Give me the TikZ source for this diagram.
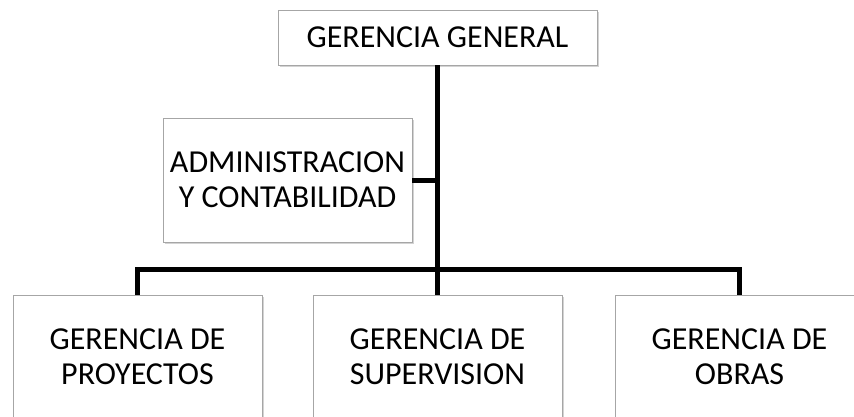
\documentclass[tikz,border=0pt]{standalone}
\usepackage{fontspec}
\setmainfont{Carlito}
\usetikzlibrary{shadows}
\tikzset{
  cargo/.style={draw=gray!70, fill=white, align=center, inner sep=0pt,
    minimum width=249, minimum height=124,
    font=\fontsize{32}{35}\selectfont,
    drop shadow={shadow xshift=2pt, shadow yshift=-2pt, opacity=0.35}},
  linea/.style={line width=5pt, line join=miter}
}
\begin{document}
\begin{tikzpicture}[x=1pt,y=-1pt]
\useasboundingbox (0,0) rectangle (854,416);
% cajas
\node [cargo, minimum width=319, minimum height=55] (gg) at (437.5,37.5) {GERENCIA GENERAL};
\node [cargo] (adm) at (287.5,180) {ADMINISTRACION\\Y CONTABILIDAD};
\node [cargo] (gp) at (137.5,357) {GERENCIA DE\\PROYECTOS};
\node [cargo] (gs) at (437.5,357) {GERENCIA DE\\SUPERVISION};
\node [cargo] (go) at (739.5,357) {GERENCIA DE\\OBRAS};
% lineas
\coordinate (barra) at (437.5,269);
\draw [linea] (gg.south) -- (barra);
\draw [linea] (adm.east) -- (adm.east -| gg.south);
\draw [linea] (gp.north) |- (barra) -| (go.north);
\draw [linea] (barra) -- (gs.north);
\end{tikzpicture}
\end{document}
